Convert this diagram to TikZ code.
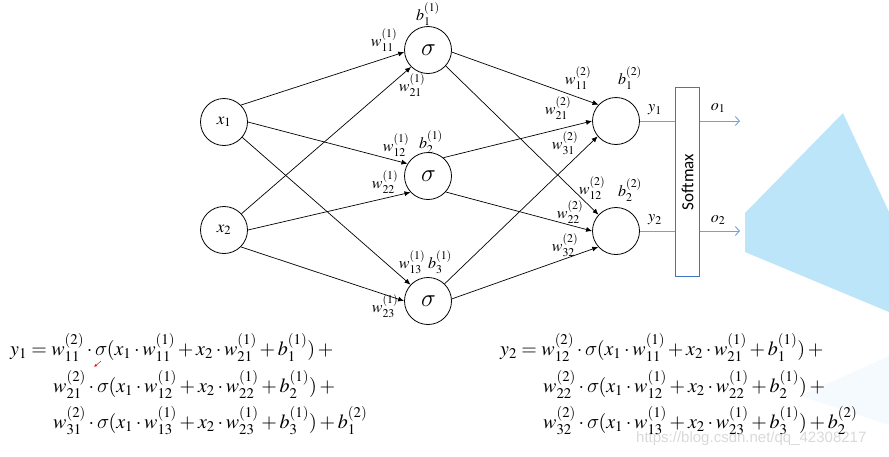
\documentclass[tikz,border=0pt]{standalone}
\usepackage{mathptmx}
\usepackage[no-math]{fontspec}
\newfontfamily\smfont{Carlito}
\newfontfamily\wmfont{Liberation Sans}
\newcommand{\sigm}{\mbox{\usefont{OML}{cmm}{m}{it}\char27}}
\usetikzlibrary{arrows.meta}
\definecolor{boxblue}{RGB}{68,114,196}
\definecolor{lineblue}{RGB}{120,160,215}
\definecolor{polyblue}{RGB}{189,229,250}
\definecolor{paleblue}{RGB}{245,250,254}
\tikzset{
  neuron/.style={circle, draw, minimum size=47pt, inner sep=0pt, line width=0.8pt},
  conn/.style={line width=0.7pt, -{Latex[length=6pt,width=5pt]}},
  lbl/.style={inner sep=0pt, font=\fontsize{16}{18}\selectfont},
  eq/.style={inner sep=0pt, anchor=base west, font=\fontsize{20}{24}\selectfont},
  outarr/.style={lineblue, line width=0.9pt, -{Straight Barb[length=4pt,width=9pt]}},
}
\begin{document}
\begin{tikzpicture}[x=1pt,y=-1pt]
\useasboundingbox (0,0) rectangle (889,456);
% background shapes
\fill[paleblue] (889,356) -- (800,396) -- (889,425) -- cycle;
\fill[polyblue] (843,113) -- (745,213) -- (745,252) -- (889,312) -- (889,212) -- cycle;
% neurons
\node[neuron] (x1) at (224,122) {\fontsize{17}{20}\selectfont$x_1$};
\node[neuron] (x2) at (224,230) {\fontsize{17}{20}\selectfont$x_2$};
\node[neuron] (s1) at (428,50) {\fontsize{25}{28}\selectfont$\sigm$};
\node[neuron] (s2) at (428,176) {\fontsize{25}{28}\selectfont$\sigm$};
\node[neuron] (s3) at (428,301) {\fontsize{25}{28}\selectfont$\sigm$};
\node[neuron] (o1) at (616,121) {};
\node[neuron] (o2) at (616,231) {};
% softmax
\node[draw=boxblue, line width=1.8pt, minimum width=24pt, minimum height=189pt, inner sep=0pt] (sm) at (687.5,182) {};
\node[rotate=90, font=\smfont\fontsize{17}{19}\selectfont, inner sep=0pt] (smt) at (sm.center) {Softmax};
% connectors layer 1
\draw[conn] (x1.45) -- (s1.185);
\draw[conn] (x2.43) -- (s1.225);
\draw[conn] (x1.0) -- (s2.149);
\draw[conn] (x2.0) -- (s2.223);
\draw[conn] (x1.320) -- (s3.137);
\draw[conn] (x2.315) -- (s3.180);
% connectors layer 2
\draw[conn] (s1.355) -- (o1.137);
\draw[conn] (s1.318) -- (o2.137);
\draw[conn] (s2.50) -- (o1.180);
\draw[conn] (s2.318) -- (o2.180);
\draw[conn] (s3.46) -- (o1.220);
\draw[conn] (s3.5) -- (o2.222);
% outputs
\draw[lineblue, line width=0.9pt] (o1.east) -- (o1.east -| sm.west);
\draw[lineblue, line width=0.9pt] (o2.east) -- (o2.east -| sm.west);
\coordinate (e1) at (740,121);
\coordinate (e2) at (740,231);
\draw[outarr] (o1.east -| sm.east) -- (e1);
\draw[outarr] (o2.east -| sm.east) -- (e2);
% labels
\node[lbl] (lb11) at (428,14) {$b_1^{(1)}$};
\node[lbl] (lw111) at (384,40) {$w_{11}^{(1)}$};
\node[lbl] (lw121) at (412,85) {$w_{21}^{(1)}$};
\node[lbl] (lw112) at (396,145) {$w_{12}^{(1)}$};
\node[lbl] (lb21) at (431,142) {$b_2^{(1)}$};
\node[lbl] (lw122) at (385,182) {$w_{22}^{(1)}$};
\node[lbl] (lw113) at (412,262) {$w_{13}^{(1)}$};
\node[lbl] (lb31) at (440,262) {$b_3^{(1)}$};
\node[lbl] (lw123) at (385,306) {$w_{23}^{(1)}$};
\node[lbl] (lw211) at (578,78) {$w_{11}^{(2)}$};
\node[lbl] (lb12) at (630,78) {$b_1^{(2)}$};
\node[lbl] (lw221) at (558,108) {$w_{21}^{(2)}$};
\node[lbl] (lw231) at (565,143) {$w_{31}^{(2)}$};
\node[lbl] (lw212) at (592,188) {$w_{12}^{(2)}$};
\node[lbl] (lb22) at (630,190) {$b_2^{(2)}$};
\node[lbl] (lw222) at (570,212) {$w_{22}^{(2)}$};
\node[lbl] (lw232) at (565,245) {$w_{32}^{(2)}$};
\node[lbl] (ly1) at (655,110) {$y_1$};
\node[lbl] (lo1) at (718,108) {$o_1$};
\node[lbl] (ly2) at (655,220) {$y_2$};
\node[lbl] (lo2) at (718,220) {$o_2$};
% watermark
\node[anchor=base west, inner sep=0pt, text=black!15, font=\wmfont\fontsize{15}{17}\selectfont] (wm) at (636,442) {https://blog.csdn.net/qq\_42308217};
% equations
\node[eq] (eqa1) at (10,355) {$y_1 = w_{11}^{(2)}\cdot\sigm(x_1\cdot w_{11}^{(1)}+x_2\cdot w_{21}^{(1)}+b_1^{(1)})+{}$};
\node[eq] (eqa2) at (53,392) {$w_{21}^{(2)}\cdot\sigm(x_1\cdot w_{12}^{(1)}+x_2\cdot w_{22}^{(1)}+b_2^{(1)})+{}$};
\node[eq] (eqa3) at (53,428) {$w_{31}^{(2)}\cdot\sigm(x_1\cdot w_{13}^{(1)}+x_2\cdot w_{23}^{(1)}+b_3^{(1)})+b_1^{(2)}$};
\node[eq] (eqb1) at (500,355) {$y_2 = w_{12}^{(2)}\cdot\sigm(x_1\cdot w_{11}^{(1)}+x_2\cdot w_{21}^{(1)}+b_1^{(1)})+{}$};
\node[eq] (eqb2) at (543,392) {$w_{22}^{(2)}\cdot\sigm(x_1\cdot w_{12}^{(1)}+x_2\cdot w_{22}^{(1)}+b_2^{(1)})+{}$};
\node[eq] (eqb3) at (543,428) {$w_{32}^{(2)}\cdot\sigm(x_1\cdot w_{13}^{(1)}+x_2\cdot w_{23}^{(1)}+b_3^{(1)})+b_2^{(2)}$};
% small red mark
\coordinate (rm1) at (101,361);
\coordinate (rm2) at (94,367);
\draw[red, line width=0.5pt, -{Latex[length=3pt,width=2.5pt]}] (rm1) -- (rm2);
\end{tikzpicture}
\end{document}
